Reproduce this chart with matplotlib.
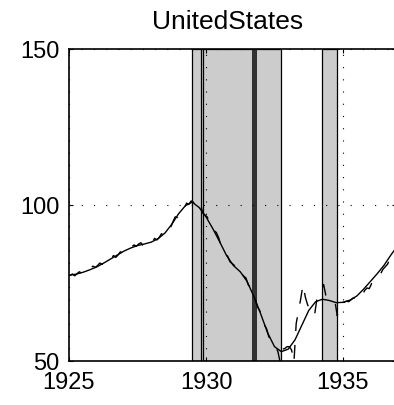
import numpy as np
import matplotlib
matplotlib.use("Agg")
import matplotlib.pyplot as plt

plt.rcParams['font.family'] = ['Liberation Sans', 'DejaVu Sans']

title = "UnitedStates"

# Smooth trend (quarterly)
smooth_t = [1925.00, 1925.25, 1925.50, 1925.75, 1926.00, 1926.25, 1926.50, 1926.75,
            1927.00, 1927.25, 1927.50, 1927.75, 1928.00, 1928.25, 1928.50, 1928.75,
            1929.00, 1929.25, 1929.50, 1929.75, 1930.00, 1930.25, 1930.50, 1930.75,
            1931.00, 1931.25, 1931.50, 1931.75, 1932.00, 1932.25, 1932.50, 1932.75,
            1933.00, 1933.25, 1933.50, 1933.75, 1934.00, 1934.25, 1934.50, 1934.75,
            1935.00, 1935.25, 1935.50, 1935.75, 1936.00, 1936.25, 1936.50, 1936.75, 1937.00]
smooth_v = [77.5, 77.8, 78.4, 79.2, 80.1, 81.3, 82.6, 83.9,
            85.2, 86.2, 87.0, 87.5, 88.1, 89.2, 91.0, 93.8,
            97.2, 99.8, 100.9, 99.2, 96.2, 92.4, 88.2, 83.8,
            80.6, 78.6, 75.5, 70.6, 65.0, 59.0, 54.6, 53.0,
            53.8, 56.8, 61.5, 66.2, 69.0, 69.8, 69.4, 68.7,
            68.8, 69.5, 70.8, 73.0, 75.5, 78.0, 80.7, 84.0, 87.0]

# Raw monthly series, Jan 1925 .. Dec 1936
raw_years = [1925, 1926, 1927, 1928, 1929, 1930, 1931, 1932, 1933, 1934, 1935, 1936]
raw_1925 = [77.4, 77.9, 77.3, 78.0, 78.6, 78.2, 78.9, 79.4, 79.0, 79.8, 80.4, 80.0]
raw_1926 = [80.6, 81.4, 81.0, 81.8, 82.6, 82.1, 83.0, 83.8, 83.2, 84.0, 85.0, 84.6]
raw_1927 = [85.2, 86.1, 85.8, 86.6, 87.2, 86.8, 87.5, 87.9, 86.9, 87.4, 88.2, 87.8]
raw_1928 = [88.2, 89.3, 88.8, 89.6, 90.8, 90.3, 91.5, 93.0, 92.8, 94.6, 96.2, 96.0]
raw_1929 = [97.4, 98.9, 99.0, 100.6, 100.2, 101.3, 100.9, 100.0, 100.4, 101.0, 97.4, 96.8]
raw_1930 = [96.2, 94.6, 93.8, 91.8, 91.2, 89.6, 87.2, 86.4, 84.2, 83.6, 81.8, 81.2]
raw_1931 = [80.6, 79.4, 79.6, 78.8, 77.2, 76.6, 74.4, 73.6, 71.2, 70.0, 67.4, 66.2]
raw_1932 = [64.4, 61.6, 60.4, 57.8, 56.8, 55.0, 54.6, 53.0, 49.5, 53.8, 54.0, 54.6]
raw_1933 = [54.6, 53.5, 49.5, 62.0, 66.0, 70.0, 74.5, 70.5, 68.0, 66.5, 65.5, 64.5]
raw_1934 = [69.5, 70.5, 72.0, 74.5, 71.0, 70.0, 69.5, 69.0, 69.0, 64.5, 68.5, 68.8]
raw_1935 = [68.8, 69.2, 69.0, 69.6, 70.2, 69.8, 70.8, 71.6, 71.2, 72.6, 73.4, 73.2]
raw_1936 = [74.8, 75.2, 76.6, 77.4, 78.0, 79.4, 80.2, 81.0, 82.6, 83.8, 84.6, 86.2]
raw_blocks = [raw_1925, raw_1926, raw_1927, raw_1928, raw_1929, raw_1930,
              raw_1931, raw_1932, raw_1933, raw_1934, raw_1935, raw_1936]

# Shaded periods and event lines
shade_start = [1929.48, 1934.22]
shade_end = [1932.73, 1934.79]
event_lines = [1929.81, 1929.90]
dark_start = [1931.69]
dark_end = [1931.82]

xticks = [1925, 1930, 1935]
yticks = [50, 100, 150]

raw_t = []
raw_v = []
for y, block in zip(raw_years, raw_blocks):
    for m, v in enumerate(block):
        raw_t.append(y + (m + 0.5) / 12)
        raw_v.append(v)

W, H = 394, 406
fig = plt.figure(figsize=(W / 100, H / 100), dpi=100)
left_px, right_px, top_px, bot_px = 69, 396, 50, 362
ax = fig.add_axes([left_px / W, 1 - bot_px / H, (right_px - left_px) / W, (bot_px - top_px) / H])

x0 = 1925
x1 = 1925 + (right_px - left_px) / 27.4
ax.set_xlim(x0, x1)
ax.set_ylim(50, 150)

ax.grid(True, color='k', linestyle=(0, (1, 10)), linewidth=0.8, zorder=0)

for s, e in zip(shade_start, shade_end):
    ax.axvspan(s, e, facecolor='#cccccc', edgecolor='k', linewidth=0.9, zorder=1)
for s, e in zip(dark_start, dark_end):
    ax.axvspan(s, e, facecolor='#333333', edgecolor='#222222', linewidth=0.6, zorder=1.5)
for xe in event_lines:
    ax.axvline(xe, color='k', linewidth=0.9, zorder=1.5)

ax.plot(smooth_t, smooth_v, color='k', linewidth=1.0, zorder=3)
ax.plot(raw_t, raw_v, color='k', linewidth=1.0, dashes=(10, 10), zorder=3)

ax.set_xticks(xticks)
ax.set_yticks(yticks)
ax.tick_params(direction='in', length=3, width=0.8, top=True, right=True,
               labelsize=17, pad=7)
for sp in ax.spines.values():
    sp.set_linewidth(1.2)

fig.text(228 / W, 1 - 22 / H, title, ha='center', va='center', fontsize=19)

fig.savefig('out.png', dpi=100)
